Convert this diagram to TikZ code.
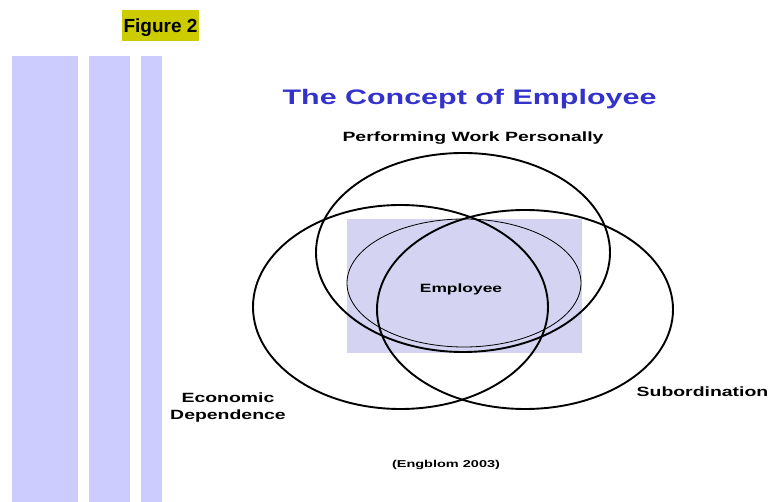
\documentclass[tikz,border=0pt]{standalone}
\usepackage{fontspec}
\setmainfont{Liberation Sans}
\usepackage{graphicx}
\definecolor{barblue}{RGB}{204,204,255}
\definecolor{figyellow}{RGB}{204,204,0}
\definecolor{titleblue}{RGB}{51,51,204}
\definecolor{shadeblue}{RGB}{212,212,242}
\newcommand{\widetext}[1]{\scalebox{1.45}[1]{#1}}
\begin{document}
\begin{tikzpicture}[x=1pt,y=-1pt,
  lbl/.style={font=\fontsize{13.4}{16}\selectfont\bfseries, inner sep=0pt, anchor=base},
  ring/.style={draw=black, line width=1.9pt},
  bar/.style={fill=barblue, draw=none}]
\useasboundingbox (0,0) rectangle (769,502);
% side bars
\fill[barblue] (12,56) rectangle (78,502);
\fill[barblue] (89,56) rectangle (130,502);
\fill[barblue] (141,56) rectangle (162,502);
% figure label
\fill[figyellow] (122,10) rectangle (199,41);
\node[font=\fontsize{19}{21}\selectfont\bfseries, inner sep=0pt, anchor=base] (fig) at (160.5,33) {Figure 2};
% title
\node[font=\fontsize{21}{24}\selectfont\bfseries, text=titleblue, inner sep=0pt, anchor=base] (title) at (469.5,104.5) {\widetext{The Concept of Employee}};
% shaded core
\fill[shadeblue] (347,219) rectangle (582,353);
\draw[line width=0.8pt] (464,283) ellipse [x radius=117, y radius=64];
% three circles
\draw[ring] (463,252.5) ellipse [x radius=147, y radius=99.5];
\draw[ring] (400.5,307) ellipse [x radius=147.5, y radius=102];
\draw[ring] (525,309.5) ellipse [x radius=148, y radius=99.5];
% labels
\node[lbl] (perf) at (473,141.7) {\widetext{Performing Work Personally}};
\node[lbl, font=\fontsize{12}{14}\selectfont\bfseries] (emp) at (461,292.3) {\widetext{Employee}};
\node[lbl] (sub) at (702.5,397) {\widetext{Subordination}};
\node[lbl] (eco1) at (228,402.3) {\widetext{Economic}};
\node[lbl] (eco2) at (228,420) {\widetext{Dependence}};
\node[lbl, font=\fontsize{10}{12}\selectfont\bfseries] (src) at (446,468) {\widetext{(Engblom 2003)}};
\end{tikzpicture}
\end{document}
